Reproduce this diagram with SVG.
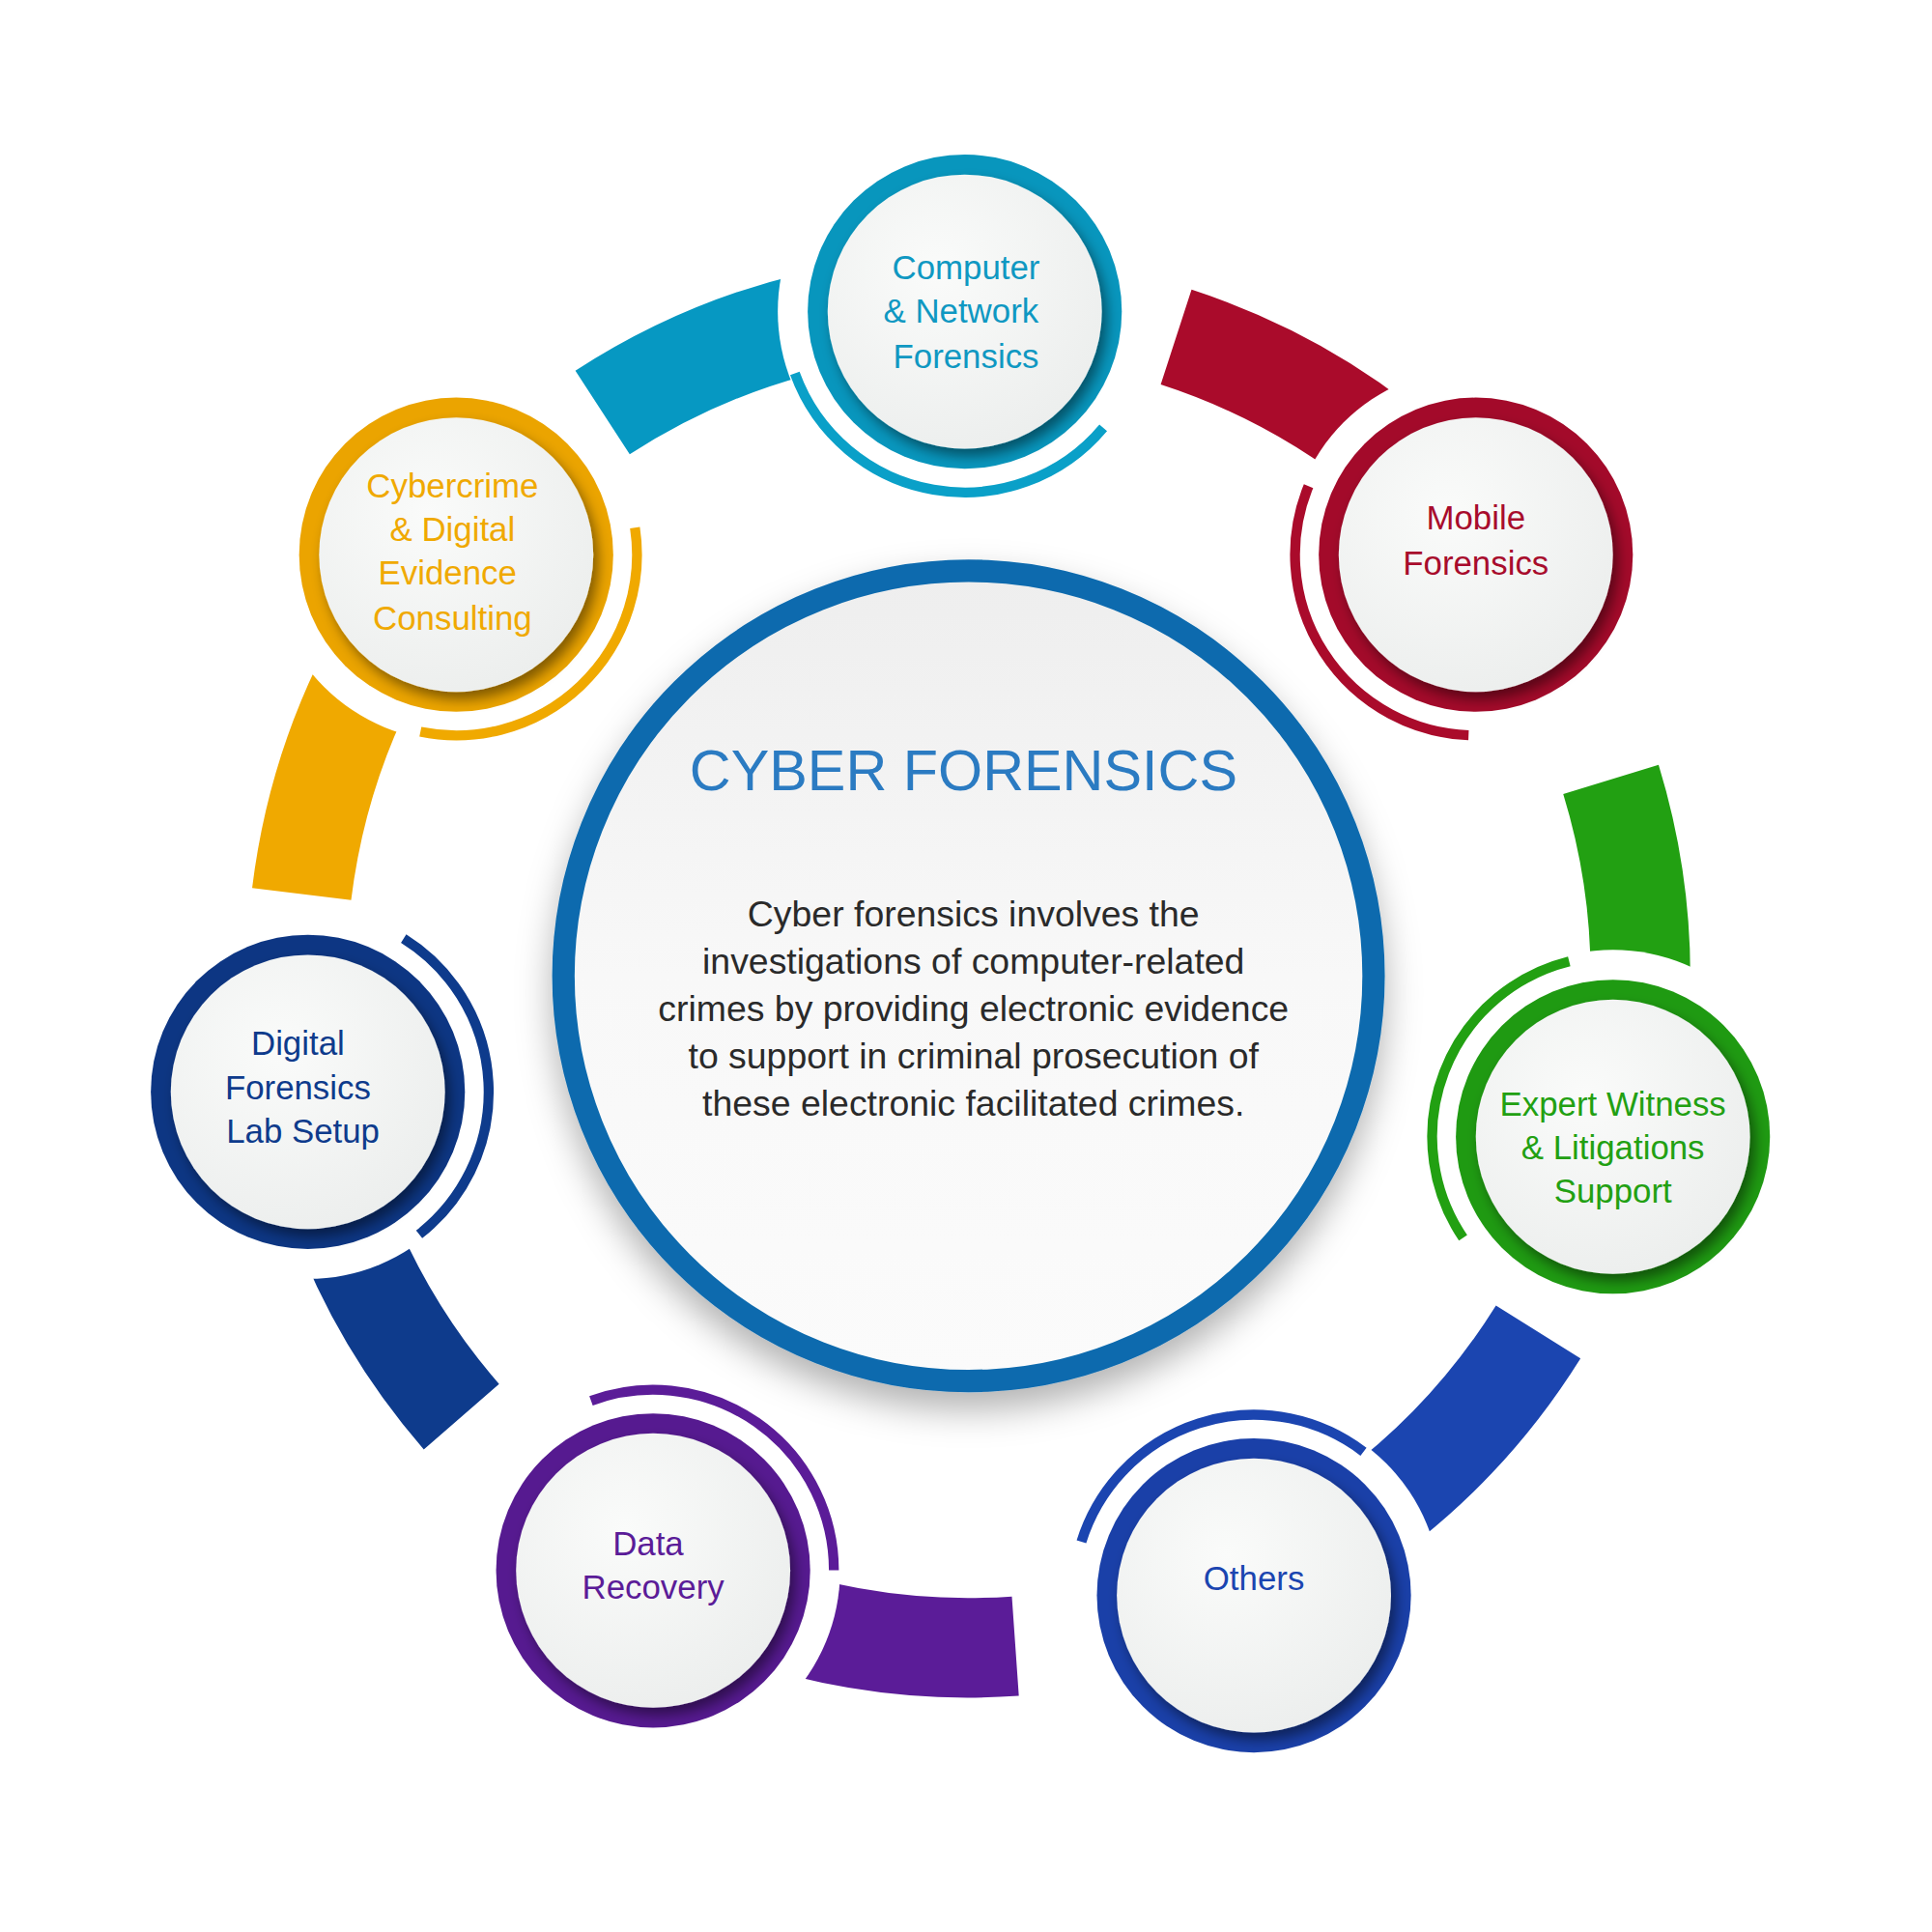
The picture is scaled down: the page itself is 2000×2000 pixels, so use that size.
<svg xmlns="http://www.w3.org/2000/svg" width="2000" height="2000" viewBox="0 0 2000 2000">
<defs>
<style>
.band{fill:none;stroke-width:80}
.thin{fill:none;stroke-width:8}
.gap{fill:#fff}
.inner{fill:url(#g);filter:url(#sh)}
.lbl{font-family:"Liberation Sans",Arial,sans-serif;font-size:27px;text-anchor:middle}
</style>
<radialGradient id="g" cx="0.4" cy="0.35" r="0.7"><stop offset="0" stop-color="#fafbfa"/><stop offset="1" stop-color="#eceeed"/></radialGradient>
<linearGradient id="cg" x1="0" y1="0" x2="0" y2="1"><stop offset="0" stop-color="#eeeeee"/><stop offset="0.5" stop-color="#f8f8f8"/><stop offset="1" stop-color="#fbfbfb"/></linearGradient>
<filter id="sh" x="-30%" y="-30%" width="160%" height="160%"><feDropShadow dx="4" dy="6" stdDeviation="5" flood-color="#000" flood-opacity="0.45"/></filter>
<filter id="sh2" x="-20%" y="-20%" width="140%" height="140%"><feDropShadow dx="0" dy="14" stdDeviation="14" flood-color="#000" flood-opacity="0.3"/></filter>
</defs>
<rect width="2000" height="2000" fill="#fff"/>
<g transform="scale(1.29032)">
<g id="connectors">
<path class="band" stroke="#0698c2" d="M483.4,331 A539,539 0 0 1 702,249.2"/>
<path class="band" stroke="#aa0b2b" d="M943.6,270.4 A539,539 0 0 1 1144.6,388.8"/>
<path class="band" stroke="#22a012" d="M1292.4,625.4 A539,539 0 0 1 1312,848.7"/>
<path class="band" stroke="#1b45b0" d="M1234.1,1068.6 A539,539 0 0 1 1070.5,1235.1"/>
<path class="band" stroke="#5b1c98" d="M814.6,1320.7 A539,539 0 0 1 592.7,1289.5"/>
<path class="band" stroke="#0e3b8c" d="M370.2,1136.6 A539,539 0 0 1 261.6,940.6"/>
<path class="band" stroke="#f0a900" d="M242,717.3 A539,539 0 0 1 319.9,497.4"/>
</g>
<g id="center">
<circle cx="777" cy="783" r="325" fill="url(#cg)" stroke="#0b6aae" stroke-width="18" filter="url(#sh2)"/>
<text x="773" y="634" font-family="'Liberation Sans',Arial,sans-serif" font-size="46" fill="#2b7bc2" text-anchor="middle">CYBER FORENSICS</text>
<g font-family="'Liberation Sans',Arial,sans-serif" font-size="29" fill="#2a2a2a" text-anchor="middle">
<text x="781" y="743">Cyber forensics involves the</text>
<text x="781" y="781">investigations of computer-related</text>
<text x="781" y="819">crimes by providing electronic evidence</text>
<text x="781" y="857">to support in criminal prosecution of</text>
<text x="781" y="895">these electronic facilitated crimes.</text>
</g>
</g>
<g id="computer">
<circle class="gap" cx="774" cy="250" r="150"/>
<path class="thin" stroke="#0aa0c8" d="M885.1,343.2 A145,145 0 0 1 637.7,299.6"/>
<circle cx="774" cy="250" r="126" fill="#0896bd"/>
<circle class="inner" cx="774" cy="250" r="110"/>
<g class="lbl" fill="#0f98c2"><text x="775" y="224">Computer</text><text x="771" y="259">&amp; Network</text><text x="775" y="295">Forensics</text></g>
</g>
<g id="mobile">
<circle class="gap" cx="1184" cy="445" r="150"/>
<path class="thin" stroke="#aa0b2b" d="M1178.2,589.9 A145,145 0 0 1 1049.8,390"/>
<circle cx="1184" cy="445" r="126" fill="#a30a2a"/>
<circle class="inner" cx="1184" cy="445" r="110"/>
<g class="lbl" fill="#a80c2c"><text x="1184" y="425">Mobile</text><text x="1184" y="461">Forensics</text></g>
</g>
<g id="expert">
<circle class="gap" cx="1294" cy="912" r="150"/>
<path class="thin" stroke="#22a012" d="M1173.8,993.1 A145,145 0 0 1 1258.9,771.3"/>
<circle cx="1294" cy="912" r="126" fill="#1f9a12"/>
<circle class="inner" cx="1294" cy="912" r="110"/>
<g class="lbl" fill="#22a012"><text x="1294" y="895">Expert Witness</text><text x="1294" y="930">&amp; Litigations</text><text x="1294" y="965">Support</text></g>
</g>
<g id="others">
<circle class="gap" cx="1006" cy="1280" r="150"/>
<path class="thin" stroke="#1b45b0" d="M867.6,1236.9 A145,145 0 0 1 1093.9,1164.7"/>
<circle cx="1006" cy="1280" r="126" fill="#1a40a8"/>
<circle class="inner" cx="1006" cy="1280" r="110"/>
<g class="lbl" fill="#1b45b0"><text x="1006" y="1276">Others</text></g>
</g>
<g id="data">
<circle class="gap" cx="524" cy="1260" r="150"/>
<path class="thin" stroke="#5b1c98" d="M474.2,1123.8 A145,145 0 0 1 669,1259.7"/>
<circle cx="524" cy="1260" r="126" fill="#561a90"/>
<circle class="inner" cx="524" cy="1260" r="110"/>
<g class="lbl" fill="#5b1c98"><text x="520" y="1248">Data</text><text x="524" y="1283">Recovery</text></g>
</g>
<g id="digital">
<circle class="gap" cx="247" cy="876" r="150"/>
<path class="thin" stroke="#0e3b8c" d="M323.8,753 A145,145 0 0 1 336.3,990.3"/>
<circle cx="247" cy="876" r="126" fill="#0d3683"/>
<circle class="inner" cx="247" cy="876" r="110"/>
<g class="lbl" fill="#0e3b8c"><text x="239" y="846">Digital</text><text x="239" y="882">Forensics</text><text x="243" y="917">Lab Setup</text></g>
</g>
<g id="cyber">
<circle class="gap" cx="366" cy="445" r="150"/>
<path class="thin" stroke="#f0a900" d="M509.4,423.3 A145,145 0 0 1 337.3,587.1"/>
<circle cx="366" cy="445" r="126" fill="#eba400"/>
<circle class="inner" cx="366" cy="445" r="110"/>
<g class="lbl" fill="#f0a900"><text x="363" y="399">Cybercrime</text><text x="363" y="434">&amp; Digital</text><text x="359" y="469">Evidence</text><text x="363" y="505">Consulting</text></g>
</g>
</g>
</svg>
